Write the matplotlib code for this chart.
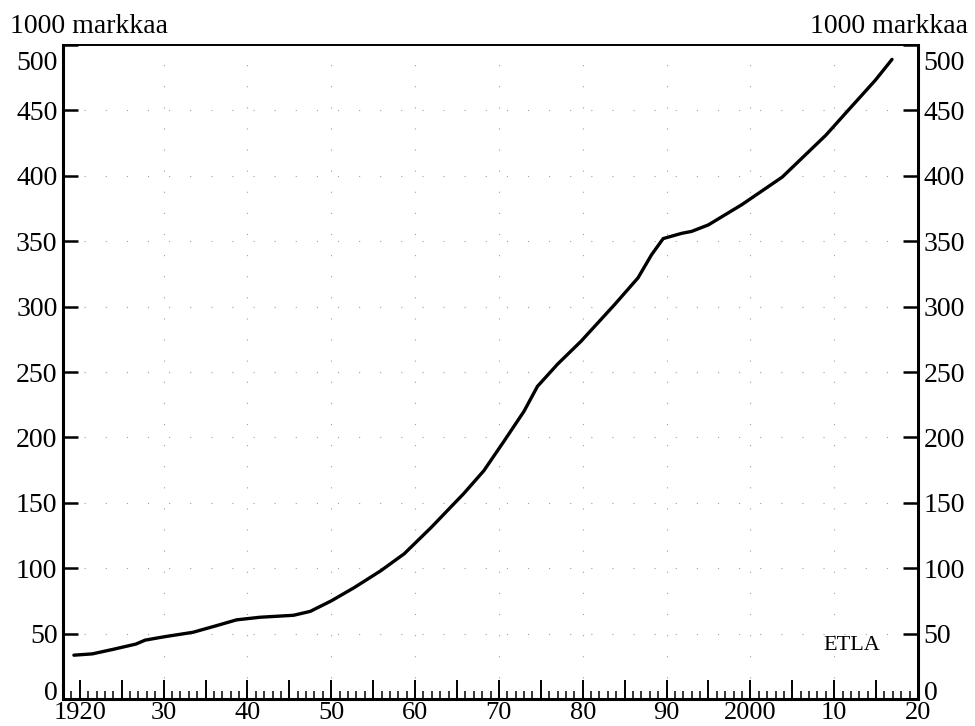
import matplotlib
matplotlib.use('Agg')
from matplotlib import pyplot as plt
from matplotlib.ticker import FixedLocator, MultipleLocator
from matplotlib.transforms import ScaledTranslation

plt.rcParams['font.family'] = ['Liberation Serif', 'DejaVu Serif']

# (1000 markkaa)
years = [1919.3, 1921.5, 1924, 1926.7, 1927.8, 1930, 1933.5, 1936, 1938.7,
         1941.5, 1945.5, 1947.5, 1950, 1952.7, 1955.9, 1958.7, 1961.9,
         1965.8, 1968.2, 1970.6, 1973, 1974.6, 1977, 1979.8, 1983.8, 1986.6,
         1988.2, 1989.6, 1991.8, 1993, 1995, 1999, 2003.8, 2009, 2011.8,
         2014.9, 2016.9]
values = [33.5, 34.5, 38, 42, 45, 47.5, 51, 55.5, 60.5,
          62.5, 64, 67, 75, 85, 98, 111, 131,
          157, 174.5, 197, 220, 239, 256, 273.5, 301.5, 322,
          339.5, 352, 356, 357.5, 362.5, 378, 399, 431, 451,
          473, 489]

xticks_major = list(range(1920, 2021, 5))
decades = list(range(1920, 2021, 10))
decade_labels = ['1920', '30', '40', '50', '60', '70', '80', '90', '2000', '10', '20']
yticks = list(range(0, 501, 50))

fig = plt.figure(figsize=(9.75, 7.26), dpi=100)
ax = fig.add_axes([63/975, 1-699/726, (918-63)/975, (699-45)/726])

ax.plot(years, values, color='black', lw=2.4, solid_capstyle='round',
        solid_joinstyle='round', zorder=3)

ax.set_xlim(1918, 2020)
ax.set_ylim(0, 499)

# sparse dotted grid
for d in decades[1:-1]:
    ax.axvline(d, color='#a0a0a0', lw=0.8, dashes=(1, 18), zorder=1)
for v in yticks[1:]:
    ax.axhline(v, color='#a0a0a0', lw=0.8, dashes=(1, 18), zorder=1)

ax.xaxis.set_major_locator(FixedLocator(xticks_major))
ax.set_xticklabels([decade_labels[decades.index(t)] if t in decades else ''
                    for t in xticks_major])
ax.xaxis.set_minor_locator(MultipleLocator(1))
ax.set_yticks(yticks)
ax.set_yticklabels([str(v) for v in yticks])

ax.tick_params(axis='x', which='major', direction='in', length=14, width=1.4,
               labelsize=19, pad=2)
ax.tick_params(axis='x', which='minor', direction='in', length=6, width=1.1)
ax.tick_params(axis='y', which='major', direction='in', length=11, width=1.8,
               labelsize=20, pad=4, right=True, labelright=True)

# end labels sit inside the frame in the original
yt = ax.yaxis.get_major_ticks()
down = ScaledTranslation(0, -0.16, fig.dpi_scale_trans)
up = ScaledTranslation(0, 0.09, fig.dpi_scale_trans)
for lab in (yt[-1].label1, yt[-1].label2):
    lab.set_transform(lab.get_transform() + down)
for lab in (yt[0].label1, yt[0].label2):
    lab.set_transform(lab.get_transform() + up)

for s in ['left', 'right', 'bottom']:
    ax.spines[s].set_linewidth(2.2)
ax.spines['top'].set_linewidth(1.4)

ax.text(2012.1, 41, 'ETLA', fontsize=16, ha='center', va='center')

fig.text(10/975, 1-33/726, '1000 markkaa', fontsize=20, ha='left', va='baseline')
fig.text(968/975, 1-33/726, '1000 markkaa', fontsize=20, ha='right', va='baseline')

fig.savefig('out.png', dpi=100, facecolor='white')
